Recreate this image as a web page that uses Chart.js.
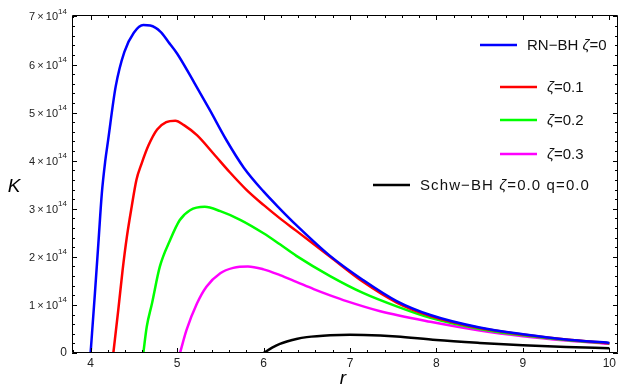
<!DOCTYPE html>
<html>
<head>
<meta charset="utf-8">
<script src="https://cdn.jsdelivr.net/npm/chart.js@4.4.0/dist/chart.umd.min.js"></script>
<style>
html,body{margin:0;padding:0;background:#fff;}
#wrap{width:619px;height:390px;position:relative;}
</style>
</head>
<body>
<div id="wrap"><canvas id="c" width="619" height="390"></canvas></div>
<script>
// K values in units of 10^14
const rRN  = [4.0,4.05,4.09,4.13,4.17,4.20,4.29,4.39,4.50,4.61,4.69,4.81,4.90,5.0,5.2,5.38,5.57,5.77,6.0,6.19,6.38,6.77,7.15,7.54,7.93,8.5,9.0,9.5,10.0];
const kRN  = [0,1.24,2.28,3.32,4.0,4.39,5.54,6.26,6.66,6.82,6.81,6.68,6.47,6.23,5.62,5.05,4.43,3.86,3.36,3.0,2.66,2.02,1.52,1.08,0.79,0.53,0.39,0.28,0.21];
const rZ01 = [4.263,4.32,4.37,4.42,4.475,4.53,4.59,4.67,4.77,4.875,4.98,5.08,5.23,5.42,5.61,5.8,6.0,6.19,6.38,6.77,7.15,7.54,7.93,8.5,9.0,9.5,10.0];
const kZ01 = [0,0.89,1.72,2.42,3.04,3.6,3.94,4.32,4.65,4.80,4.83,4.74,4.53,4.15,3.76,3.40,3.08,2.80,2.54,2.0,1.48,1.05,0.77,0.52,0.385,0.28,0.205];
const rZ02 = [4.61,4.65,4.71,4.80,4.92,5.03,5.15,5.32,5.50,5.73,6.0,6.19,6.38,6.77,7.15,7.54,7.93,8.5,9.0,9.5,10.0];
const kZ02 = [0,0.55,1.03,1.79,2.35,2.76,2.97,3.04,2.95,2.77,2.49,2.26,2.02,1.60,1.25,0.97,0.73,0.50,0.37,0.27,0.20];
const rZ03 = [5.034,5.11,5.23,5.34,5.50,5.65,5.82,6.0,6.19,6.38,6.58,6.77,6.96,7.35,7.93,8.5,9.0,9.5,10.0];
const kZ03 = [0,0.48,1.03,1.38,1.66,1.77,1.80,1.74,1.62,1.48,1.33,1.20,1.08,0.87,0.65,0.47,0.35,0.26,0.19];
const rSch = [6.0,6.1,6.19,6.38,6.5,6.77,7.0,7.35,7.54,8.0,8.5,9.0,9.5,10.0];
const kSch = [0,0.11,0.19,0.29,0.33,0.37,0.38,0.365,0.345,0.27,0.21,0.16,0.125,0.10];

const xMajor = [4,5,6,7,8,9,10];
const yMajor = [0,1,2,3,4,5,6,7];
const legendLabels = ['RN\u2212BH \u03b6=0','\u03b6=0.1','\u03b6=0.2','\u03b6=0.3','Schw\u2212BH \u03b6=0.0 q=0.0'];
const colors = ['#0000ff','#ff0000','#00ff00','#ff00ff','#000000'];

function pts(rs,ks){return rs.map((r,i)=>({x:r,y:ks[i]}));}
const series = [[rRN,kRN],[rZ01,kZ01],[rZ02,kZ02],[rZ03,kZ03],[rSch,kSch]];

const framePlugin = {
  id:'frame',
  afterDraw(chart){
    const ctx=chart.ctx, a=chart.chartArea, xs=chart.scales.x, ys=chart.scales.y;
    ctx.save();
    ctx.strokeStyle='#000'; ctx.lineWidth=1;
    ctx.beginPath();
    ctx.moveTo(a.left+0.5,a.top+0.5); ctx.lineTo(a.right-0.5,a.top+0.5);
    ctx.lineTo(a.right-0.5,a.bottom-0.5); ctx.lineTo(a.left+0.5,a.bottom-0.5); ctx.closePath();
    ctx.stroke();
    ctx.beginPath();
    for(let v=3.8; v<=10.1001; v+=0.2){
      const vv=Math.round(v*10)/10;
      if(vv<xs.min||vv>xs.max) continue;
      const major = Math.abs(vv-Math.round(vv))<1e-6;
      const len = major?5:3;
      const px=Math.round(xs.getPixelForValue(vv))+0.5;
      ctx.moveTo(px,a.bottom); ctx.lineTo(px,a.bottom-len);
      ctx.moveTo(px,a.top); ctx.lineTo(px,a.top+len);
    }
    for(let v=0; v<=7.0001; v+=0.2){
      const vv=Math.round(v*10)/10;
      const major = Math.abs(vv-Math.round(vv))<1e-6;
      const len = major?5:3;
      const py=Math.round(ys.getPixelForValue(vv))+0.5;
      ctx.moveTo(a.left,py); ctx.lineTo(a.left+len,py);
      ctx.moveTo(a.right,py); ctx.lineTo(a.right-len,py);
    }
    ctx.stroke();
    ctx.fillStyle='#222';
    ctx.font='12px "Liberation Sans", Arial, sans-serif';
    ctx.textAlign='center'; ctx.textBaseline='middle';
    xMajor.forEach(v=>{ ctx.fillText(String(v), xs.getPixelForValue(v), a.bottom+11); });
    yMajor.forEach(v=>{
      const py=ys.getPixelForValue(v);
      const right=a.left-5;
      ctx.textBaseline='middle';
      if(v===0){
        ctx.font='12px "Liberation Sans", Arial, sans-serif';
        ctx.textAlign='right';
        ctx.fillText('0', right, py);
        return;
      }
      ctx.font='8px "Liberation Sans", Arial, sans-serif';
      const ew=ctx.measureText('14').width;
      ctx.textAlign='right';
      ctx.fillText('14', right, py-5);
      ctx.font='11px "Liberation Sans", Arial, sans-serif';
      ctx.fillText(v+'\u2009\u00d7\u200910', right-ew, py+1);
    });
    ctx.fillStyle='#000';
    ctx.font='italic 19px "Liberation Sans", Arial, sans-serif';
    ctx.textAlign='center'; ctx.textBaseline='middle';
    ctx.fillText('K', 14, 187);
    ctx.fillText('r', 343, 379);
    const rows=[{y:45,tx:527,ls:0},{y:87,tx:547,ls:0},{y:120,tx:547,ls:0},{y:154,tx:547,ls:0},{y:185,tx:420,ls:1.1}];
    ctx.textAlign='left';
    rows.forEach((row,i)=>{
      ctx.strokeStyle=colors[i]; ctx.lineWidth=2.5;
      ctx.beginPath(); ctx.moveTo(row.tx-47,row.y); ctx.lineTo(row.tx-10,row.y); ctx.stroke();
      ctx.fillStyle='#111';
      ctx.textBaseline='middle';
      ctx.letterSpacing=row.ls+'px';
      const parts=legendLabels[i].split('\u03b6');
      let x=row.tx;
      parts.forEach((p,j)=>{
        if(j>0){
          ctx.font='italic 15px "Liberation Sans", Arial, sans-serif';
          ctx.fillText('\u03b6',x,row.y+1); x+=ctx.measureText('\u03b6').width;
        }
        ctx.font='15px "Liberation Sans", Arial, sans-serif';
        ctx.fillText(p,x,row.y+1); x+=ctx.measureText(p).width;
      });
      ctx.letterSpacing='0px';
    });
    ctx.restore();
  }
};

new Chart(document.getElementById('c'),{
  type:'line',
  data:{datasets:series.map((s,i)=>({
    data:pts(s[0],s[1]),
    borderColor:colors[i],
    borderWidth:2.5,
    pointRadius:0,
    fill:false,
    cubicInterpolationMode:'monotone'
  }))},
  options:{
    responsive:false,
    animation:false,
    events:[],
    layout:{padding:{left:0,right:1,top:15,bottom:0}},
    plugins:{legend:{display:false},tooltip:{enabled:false}},
    scales:{
      x:{type:'linear',min:3.785,max:10.1,
         grid:{display:false},border:{display:false},
         ticks:{display:false},
         afterFit(s){s.height=37;}},
      y:{type:'linear',min:0,max:7.03,
         grid:{display:false},border:{display:false},
         ticks:{display:false},
         afterFit(s){s.width=72;}}
    }
  },
  plugins:[framePlugin]
});
</script>
</body>
</html>
